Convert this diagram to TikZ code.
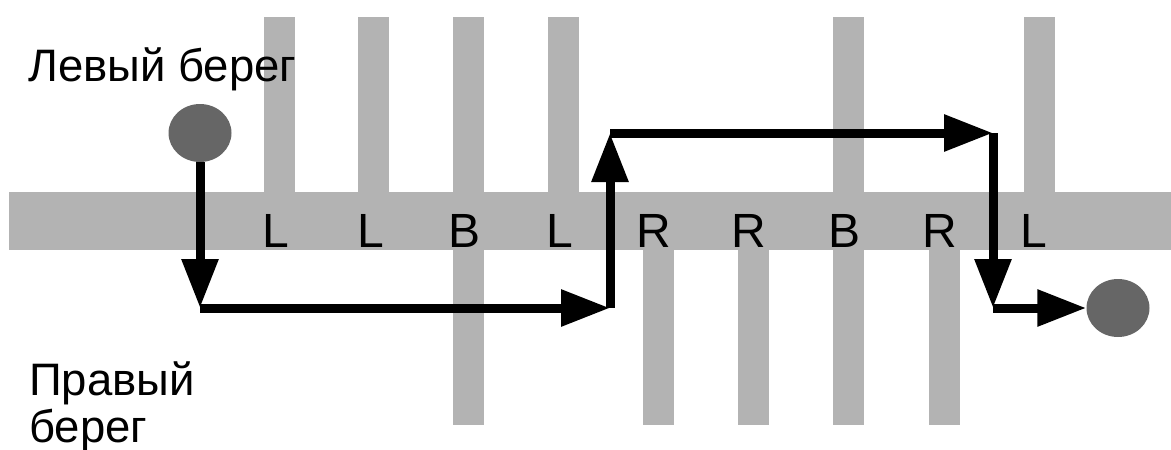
\documentclass[tikz,border=0pt]{standalone}
\usepackage{fontspec}
\setmainfont{Liberation Sans}
\usetikzlibrary{arrows.meta,shapes.geometric}
\definecolor{bargray}{HTML}{B3B3B3}
\definecolor{stonegray}{HTML}{666666}
\begin{document}
\begin{tikzpicture}[
x=1pt,y=-1pt,
bar/.style={fill=bargray,draw=none},
stone/.style={ellipse,fill=stonegray,minimum width=63,minimum height=58,inner sep=0},
side/.style={anchor=base west,align=left,inner sep=0,font=\fontsize{45.5}{47}\selectfont},
letter/.style={anchor=base,inner sep=0,font=\fontsize{48}{48}\selectfont},
move/.style={-{Triangle[length=49pt,width=35pt]},line width=9pt},
]
\useasboundingbox(0,0)rectangle(1171,450);
%river
\fill[bargray](9,192)rectangle(1171,250);
%stones on the left side
\foreach \x in {264,358,453,548,833,1024}
  \fill[bar](\x,17)rectangle(\x+31,192);
%stones on the right side
\foreach \x in {453,643,738,833,929}
  \fill[bar](\x,250)rectangle(\x+31,425);
%labels
\foreach \x/\t [count=\i] in {276/L,371/L,465/B,560/L,654/R,749/R,845/B,940/R,1034/L}
  \node[letter](m\i)at(\x,247){\t};
\node[side](left)at(28,81){Левый берег};
\node[side](right)at(29,442){Правый\\берег};

%start and finish
\node[stone](start)at(200,133){};
\node[stone](finish)at(1118,308){};
\coordinate(a)at(200,308);
\coordinate(b)at(610,308);
\coordinate(c)at(610,133);
\coordinate(d)at(993,133);
\coordinate(e)at(993,308);
%path
\draw[move](start.south)--(a);
\draw[move](a)--(b);
\draw[move](b)--(c);
\draw[move](c)--(d);
\draw[move](d)--(e);
\draw[move](e)--(finish.west);
\end{tikzpicture}
\end{document}
